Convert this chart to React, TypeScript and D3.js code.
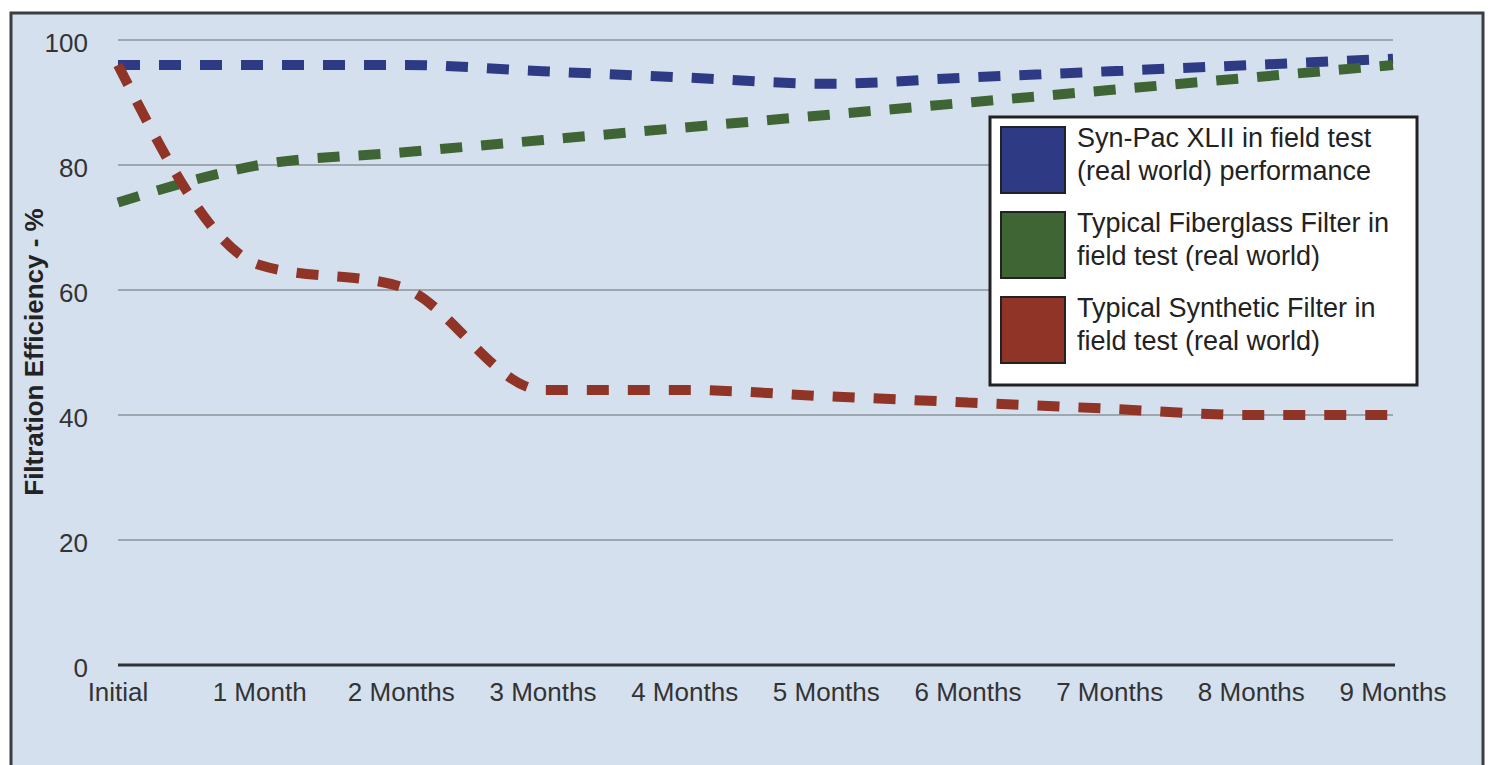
import React from "react";
import * as d3 from "d3";

const months = [
	"Initial",
	"1 Month",
	"2 Months",
	"3 Months",
	"4 Months",
	"5 Months",
	"6 Months",
	"7 Months",
	"8 Months",
	"9 Months",
];
const synPac = [96, 96, 96, 95, 94, 93, 94, 95, 96, 97];
const fiberglass = [74, 80, 82, 84, 86, 88, 90, 92, 94, 96];
const synthetic = [96, 64, 60.5, 44, 44, 43, 42, 41, 40, 40];
const yTicks = [0, 20, 40, 60, 80, 100];

const seriesList = [
	{ name: ["Syn-Pac XLII in field test", "(real world) performance"], values: synPac, color: "#2e3b84" },
	{ name: ["Typical Fiberglass Filter in", "field test (real world)"], values: fiberglass, color: "#3e6533" },
	{ name: ["Typical Synthetic Filter in", "field test (real world)"], values: synthetic, color: "#8f3426" },
];

const W = 1491;
const H = 765;
const font = "'Liberation Sans', Arial, Helvetica, sans-serif";

export default function App() {
	const x = d3.scalePoint<string>().domain(months).range([118, 1393]);
	const y = d3.scaleLinear().domain([0, 100]).range([665, 40]);

	const line = d3
		.line<number>()
		.x((_, i) => x(months[i])!)
		.y((d) => y(d))
		.curve(d3.curveMonotoneX);

	const legendX = 990;
	const legendY = 117;

	return (
		<svg
			width={W}
			height={H}
			style={{ position: "absolute", left: 0, top: 0, background: "#ffffff" }}
			fontFamily={font}
		>
			{/* frame */}
			<rect x={11} y={13} width={1472} height={800} fill="#d5e0ef" stroke="#3a3d42" strokeWidth={3} />

			{/* grid */}
			{yTicks
				.filter((t) => t > 0)
				.map((t) => (
					<line key={t} x1={118} x2={1393} y1={y(t)} y2={y(t)} stroke="#9ea6b0" strokeWidth={2} />
				))}
			<line x1={118} x2={1395} y1={y(0)} y2={y(0)} stroke="#2f3338" strokeWidth={3} />

			{/* y ticks */}
			{yTicks.map((t) => (
				<text key={t} x={88} y={y(t) + 3} textAnchor="end" dominantBaseline="central" fontSize={26} fill="#333">
					{t}
				</text>
			))}

			{/* x ticks */}
			{months.map((m) => (
				<text key={m} x={x(m)!} y={701} textAnchor="middle" fontSize={26} fill="#333">
					{m}
				</text>
			))}

			{/* y axis title */}
			<text
				transform={`translate(43,352) rotate(-90)`}
				textAnchor="middle"
				fontSize={26}
				fontWeight="bold"
				fill="#222"
			>
				Filtration Efficiency - %
			</text>

			{/* lines */}
			{seriesList.map((s) => (
				<path
					key={s.color}
					d={line(s.values)!}
					fill="none"
					stroke={s.color}
					strokeWidth={10}
					strokeDasharray="22 19"
				/>
			))}

			{/* legend */}
			<rect x={legendX} y={legendY} width={427} height={268} fill="#ffffff" stroke="#222" strokeWidth={3} />
			{seriesList.map((s, i) => {
				const top = legendY + 10 + i * 85;
				return (
					<g key={s.color}>
						<rect x={legendX + 11} y={top} width={64} height={66} fill={s.color} stroke="#222" strokeWidth={2} />
						{s.name.map((ln, j) => (
							<text key={j} x={legendX + 87} y={top + 20 + j * 33} fontSize={27} fill="#222">
								{ln}
							</text>
						))}
					</g>
				);
			})}
		</svg>
	);
}
